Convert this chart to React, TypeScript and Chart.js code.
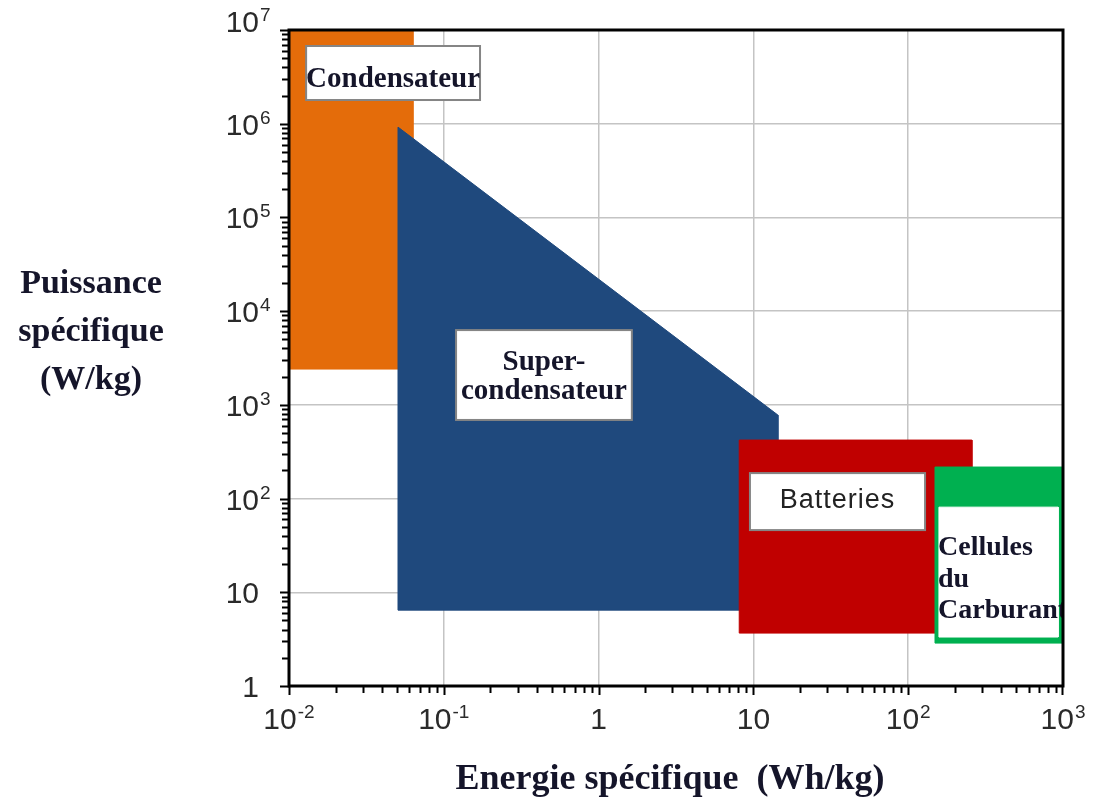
import React, { useEffect, useRef } from 'react';
import { Chart, registerables } from 'chart.js';

Chart.register(...registerables);

// Energie spécifique (Wh/kg) / puissance spécifique (W/kg) envelopes
const condensateurEnergy = [0.01, 0.0632, 0.0632, 0.01];
const condensateurPower = [1e7, 1e7, 2410, 2410];

const superCondoEnergy = [0.0506, 14.4, 14.4, 0.0506];
const superCondoPower = [9.2e5, 778, 6.45, 6.45];

const batteriesEnergy = [8.1, 258, 258, 8.1];
const batteriesPower = [421, 421, 3.67, 3.67];

const pileEnergy = [149, 985, 985, 149];
const pilePower = [217, 217, 2.87, 2.87];

const pileInnerEnergy = [158, 930, 930, 158];
const pileInnerPower = [81, 81, 3.33, 3.33];

// Axis decades and their labels (base + exponent)
const xMajorTicks = [0.01, 0.1, 1, 10, 100, 1000];
const xTickBase = ['10', '10', '1', '10', '10', '10'];
const xTickExp = ['-2', '-1', '', '', '2', '3'];

const yMajorTicks = [1, 10, 100, 1e3, 1e4, 1e5, 1e6, 1e7];
const yTickBase = ['1', '10', '10', '10', '10', '10', '10', '10'];
const yTickExp = ['', '', '2', '3', '4', '5', '6', '7'];

const X_TITLE = 'Energie spécifique  (Wh/kg)';
const Y_TITLE = ['Puissance', 'spécifique', '(W/kg)'];

const SERIF = '"Liberation Serif", "Times New Roman", serif';
const SANS = '"Liberation Sans", Arial, sans-serif';
const TEXT_DARK = '#15152a';

const COLORS = {
  condensateur: '#E46C0A',
  superCondo: '#1F497D',
  batteries: '#C00000',
  pile: '#00B050',
  white: '#ffffff',
};

// Label boxes, anchored in data coordinates
const labelBoxes = [
  {
    x0: 0.0129, x1: 0.1714, y0: 1.79e6, y1: 6.75e6,
    lines: ['Condensateur'], font: `bold 29px ${SERIF}`, firstBaseline: 41, lineHeight: 30,
    color: TEXT_DARK, spacing: '0px',
  },
  {
    x0: 0.12, x1: 1.64, y0: 690, y1: 6280,
    lines: ['Super-', 'condensateur'], font: `bold 29px ${SERIF}`, firstBaseline: 40, lineHeight: 29,
    color: TEXT_DARK, spacing: '0px',
  },
  {
    x0: 9.5, x1: 128.5, y0: 46.1, y1: 187,
    lines: ['Batteries'], font: `27px ${SANS}`, firstBaseline: 35, lineHeight: 30,
    color: '#222222', spacing: '1px',
  },
];

const pileLabel = {
  x: 155.8, y: 24.9, lines: ['Cellules', 'du', 'Carburant'], lineHeight: 31.5,
};

const toPoints = (xs: number[], ys: number[]) => {
  const pts = xs.map((x, i) => ({ x, y: ys[i] }));
  pts.push({ ...pts[0] });
  return pts;
};

// Lower "order" is painted last (on top), so earlier areas get a higher order
const area = (xs: number[], ys: number[], color: string, order: number) => ({
  data: toPoints(xs, ys),
  showLine: true,
  fill: 'shape',
  backgroundColor: color,
  borderColor: color,
  borderWidth: 1,
  pointRadius: 0,
  tension: 0,
  order,
});

const drawPowerText = (
  ctx: CanvasRenderingContext2D,
  base: string,
  exp: string,
  x: number,
  baseline: number,
  mode: 'center' | 'right',
) => {
  ctx.font = `30px ${SANS}`;
  const wb = ctx.measureText(base).width;
  ctx.font = `19px ${SANS}`;
  const we = exp ? ctx.measureText(exp).width + 1 : 0;
  const start = mode === 'center' ? x - (wb + we) / 2 : x - wb;
  ctx.textAlign = 'left';
  ctx.textBaseline = 'alphabetic';
  ctx.font = `30px ${SANS}`;
  ctx.fillText(base, start, baseline);
  if (exp) {
    ctx.font = `19px ${SANS}`;
    ctx.fillText(exp, start + wb + 1, baseline - 11);
  }
};

const ragoneDecor = {
  id: 'ragoneDecor',
  afterDatasetsDraw(chart: any) {
    const { ctx, chartArea: a, scales } = chart;
    const xs = scales.x;
    const ys = scales.y;
    ctx.save();

    // white label boxes
    labelBoxes.forEach((b) => {
      const l = xs.getPixelForValue(b.x0);
      const r = xs.getPixelForValue(b.x1);
      const t = ys.getPixelForValue(b.y1);
      const btm = ys.getPixelForValue(b.y0);
      ctx.fillStyle = '#ffffff';
      ctx.fillRect(l, t, r - l, btm - t);
      ctx.strokeStyle = '#858585';
      ctx.lineWidth = 2;
      ctx.strokeRect(l, t, r - l, btm - t);
      ctx.fillStyle = b.color;
      ctx.font = b.font;
      (ctx as any).letterSpacing = b.spacing;
      ctx.textAlign = 'center';
      ctx.textBaseline = 'alphabetic';
      b.lines.forEach((line, i) => {
        ctx.fillText(line, (l + r) / 2, t + b.firstBaseline + i * b.lineHeight);
      });
      (ctx as any).letterSpacing = '0px';
    });

    // fuel cell text, cut at the plot edge
    ctx.save();
    ctx.beginPath();
    ctx.rect(a.left, a.top, a.right - a.left, a.bottom - a.top);
    ctx.clip();
    ctx.fillStyle = TEXT_DARK;
    ctx.font = `bold 28px ${SERIF}`;
    ctx.textAlign = 'left';
    ctx.textBaseline = 'alphabetic';
    const px = xs.getPixelForValue(pileLabel.x);
    const py = ys.getPixelForValue(pileLabel.y);
    pileLabel.lines.forEach((line, i) => ctx.fillText(line, px, py + i * pileLabel.lineHeight));
    ctx.restore();

    // frame
    ctx.strokeStyle = '#000000';
    ctx.lineWidth = 3;
    ctx.strokeRect(a.left, a.top, a.right - a.left, a.bottom - a.top);

    // tick marks (outward)
    ctx.lineWidth = 2;
    ctx.beginPath();
    for (let e = -2; e < 3; e++) {
      for (let k = 1; k <= 9; k++) {
        const v = k * Math.pow(10, e);
        const p = Math.round(xs.getPixelForValue(v)) + 0.5;
        const len = k === 1 ? 9 : 7;
        ctx.moveTo(p, a.bottom);
        ctx.lineTo(p, a.bottom + len);
      }
    }
    const pEnd = Math.round(xs.getPixelForValue(1000)) - 0.5;
    ctx.moveTo(pEnd, a.bottom);
    ctx.lineTo(pEnd, a.bottom + 9);
    for (let e = 0; e < 7; e++) {
      for (let k = 1; k <= 9; k++) {
        const v = k * Math.pow(10, e);
        const p = Math.round(ys.getPixelForValue(v)) + 0.5;
        const len = k === 1 ? 9 : 7;
        ctx.moveTo(a.left, p);
        ctx.lineTo(a.left - len, p);
      }
    }
    const pTop = Math.round(ys.getPixelForValue(1e7)) + 0.5;
    ctx.moveTo(a.left, pTop);
    ctx.lineTo(a.left - 9, pTop);
    ctx.stroke();

    // tick labels
    ctx.fillStyle = '#2a2a2a';
    xMajorTicks.forEach((v, i) => {
      drawPowerText(ctx, xTickBase[i], xTickExp[i], xs.getPixelForValue(v), a.bottom + 43, 'center');
    });
    yMajorTicks.forEach((v, i) => {
      const yp = ys.getPixelForValue(v);
      // the top decade label sits just inside the canvas
      const baseline = i === yMajorTicks.length - 1 ? yp + 2 : yp + 11;
      drawPowerText(ctx, yTickBase[i], yTickExp[i], a.left - 30, baseline, 'right');
    });

    // axis titles
    ctx.fillStyle = TEXT_DARK;
    ctx.textAlign = 'center';
    ctx.font = `bold 36px ${SERIF}`;
    ctx.fillText(X_TITLE, 670, 789);
    ctx.font = `bold 34px ${SERIF}`;
    Y_TITLE.forEach((line, i) => ctx.fillText(line, 91, 293 + i * 48));

    ctx.restore();
  },
};

export default function App() {
  const ref = useRef<HTMLCanvasElement>(null);

  useEffect(() => {
    const canvas = ref.current;
    if (!canvas) return;
    const chart = new Chart(canvas, {
      type: 'scatter',
      data: {
        datasets: [
          area(condensateurEnergy, condensateurPower, COLORS.condensateur, 5),
          area(superCondoEnergy, superCondoPower, COLORS.superCondo, 4),
          area(batteriesEnergy, batteriesPower, COLORS.batteries, 3),
          area(pileEnergy, pilePower, COLORS.pile, 2),
          area(pileInnerEnergy, pileInnerPower, COLORS.white, 1),
        ] as any,
      },
      options: {
        animation: false,
        responsive: false,
        devicePixelRatio: 1,
        events: [],
        layout: { padding: { left: 289, top: 30, right: 33, bottom: 115 } },
        plugins: {
          legend: { display: false },
          tooltip: { enabled: false },
        },
        scales: {
          x: {
            type: 'logarithmic',
            min: 0.01,
            max: 1000,
            ticks: { display: false },
            grid: { color: '#c4c4c4', lineWidth: 1.5, drawTicks: false },
            border: { display: false },
            afterBuildTicks: (s: any) => {
              s.ticks = xMajorTicks.map((value) => ({ value }));
            },
          },
          y: {
            type: 'logarithmic',
            min: 1,
            max: 1e7,
            ticks: { display: false },
            grid: { color: '#c4c4c4', lineWidth: 1.5, drawTicks: false },
            border: { display: false },
            afterBuildTicks: (s: any) => {
              s.ticks = yMajorTicks.map((value) => ({ value }));
            },
          },
        },
      } as any,
      plugins: [ragoneDecor],
    });
    return () => chart.destroy();
  }, []);

  return (
    <div style={{ position: 'fixed', left: 0, top: 0, width: 1096, height: 801, background: '#ffffff' }}>
      <canvas ref={ref} width={1096} height={801} style={{ display: 'block', width: 1096, height: 801 }} />
    </div>
  );
}
